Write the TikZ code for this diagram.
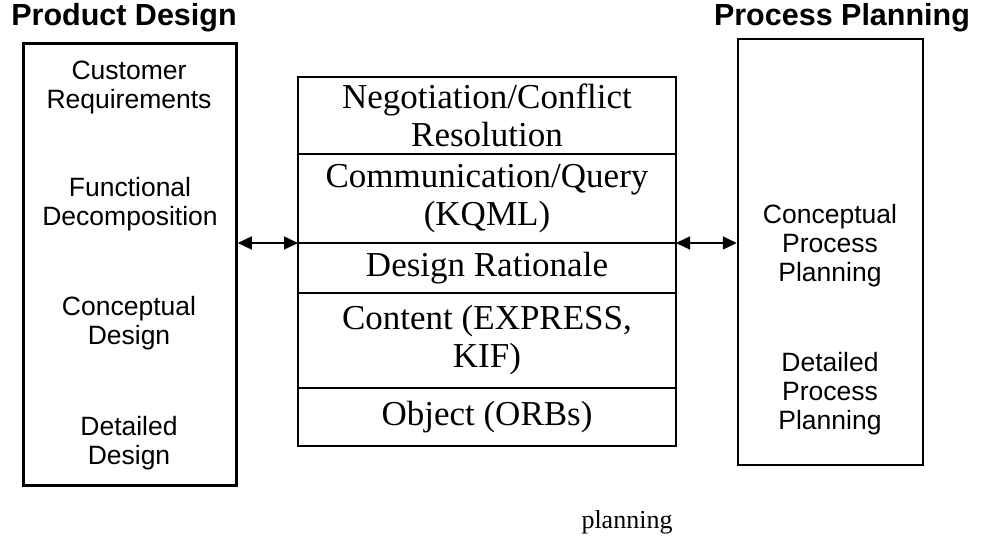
\documentclass[tikz,border=0pt]{standalone}
\usepackage{fontspec}
\setmainfont{Liberation Sans}
\newfontfamily\serifrm{Liberation Serif}
\usetikzlibrary{positioning,arrows.meta}

\begin{document}
\begin{tikzpicture}[x=1pt,y=-1pt,
        sidebox/.style={draw, line width=2.5pt, minimum width=213pt},
        steptext/.style={align=center, font=\fontsize{26.5}{29}\selectfont},
        title/.style={font=\fontsize{30.5}{34}\selectfont\bfseries},
        layer/.style={draw, line width=1.2pt, outer sep=0pt, inner sep=1pt,
            minimum width=378pt, align=center, font=\serifrm\fontsize{35}{38}\selectfont},
        link/.style={{Triangle[length=14pt,width=13pt]}-{Triangle[length=14pt,width=13pt]}, line width=1.5pt}]
        \useasboundingbox (0,0) rectangle (988,540);

        % Product design side
        \node[title] (pdtitle) at (124,18) {Product Design};
        \node[sidebox, minimum height=442pt] (pd) at (130,264.5) {};
        \node[steptext] (custreq) at (129,87) {Customer\\Requirements};
        \node[steptext] (funcdec) at (130,204) {Functional\\Decomposition};
        \node[steptext] (concdes) at (129,323) {Conceptual\\Design};
        \node[steptext] (detdes) at (129,443) {Detailed\\Design};

        % Process planning side
        \node[title] (pptitle) at (842,18) {Process Planning};
        \node[sidebox, minimum width=185pt, minimum height=426pt] (pp) at (830.5,252) {};
        \node[steptext] (concpp) at (830,246) {Conceptual\\Process\\Planning};
        \node[steptext] (detpp) at (830,394) {Detailed\\Process\\Planning};

        % Middle layers
        \node[layer, minimum height=77pt, anchor=north] (nego) at (487,77) {Negotiation/Conflict\\Resolution};
        \node[layer, minimum height=89pt, below=0pt of nego] (comm) {Communication/Query\\(KQML)};
        \node[layer, minimum height=50pt, below=0pt of comm] (rat) {Design Rationale};
        \node[layer, minimum height=95pt, below=0pt of rat] (cont) {Content (EXPRESS,\\KIF)};
        \node[layer, minimum height=58pt, below=0pt of cont] (obj) {Object (ORBs)};

        % Arrows
        \draw[link] (rat.north west -| pd.east) -- (rat.north west);
        \draw[link] (rat.north east) -- (rat.north east -| pp.west);

        \node[font=\serifrm\fontsize{26}{30}\selectfont] (cap) at (627,522) {planning};
    \end{tikzpicture}
\end{document}
